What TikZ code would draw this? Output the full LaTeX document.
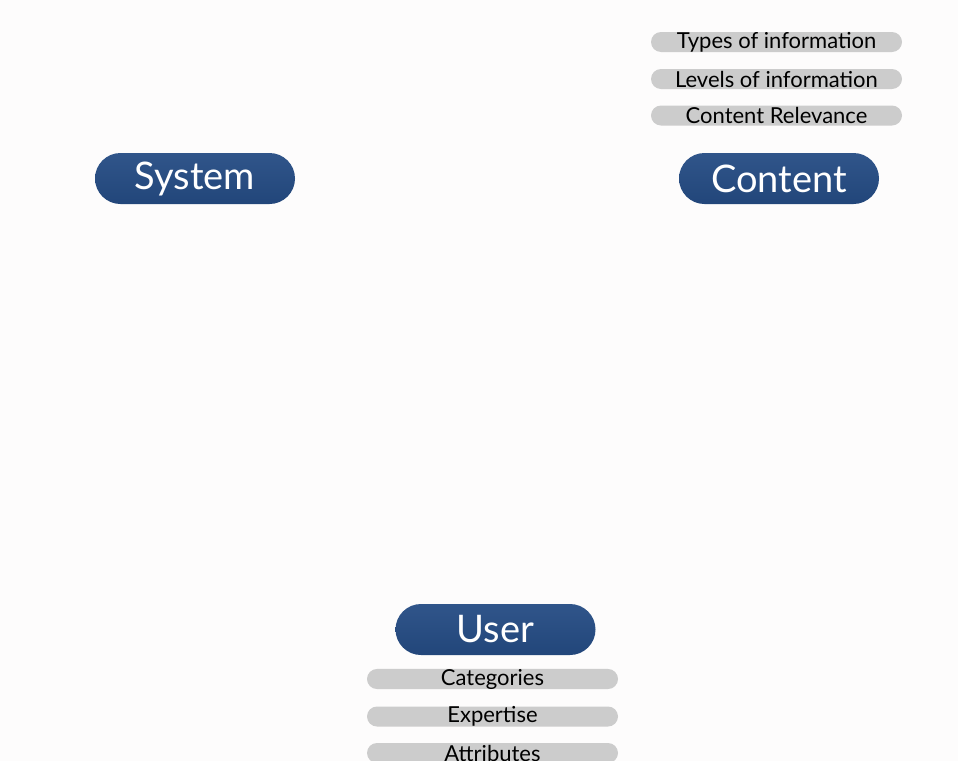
\documentclass[tikz,border=0pt]{standalone}
\usepackage{fontspec}
\setmainfont{Lato}
\definecolor{pillblue}{HTML}{22467A}
\definecolor{pilltop}{HTML}{30558A}
\definecolor{pillgray}{HTML}{CCCCCC}
\definecolor{pagebg}{HTML}{FDFCFC}
\tikzset{
  mainpill/.style={rounded corners=25.5*0.75pt, minimum width=200*0.75pt, minimum height=51*0.75pt,
    top color=pilltop, bottom color=pillblue, draw=none, text=white,
    font=\fontsize{28.5}{28.5}\selectfont, inner sep=0pt},
  subpill/.style={rounded corners=10*0.75pt, minimum width=251*0.75pt, minimum height=20*0.75pt,
    fill=pillgray, draw=none, text=black, font=\fontsize{16.5}{16.5}\selectfont, inner sep=0pt}
}
\begin{document}
\begin{tikzpicture}[x=0.75pt,y=-0.75pt]
\fill[pagebg] (0,0) rectangle (958,761);
\useasboundingbox (0,0) rectangle (958,761);
% three headings
\node[mainpill] (system) at (195,178.5) {System};
\node[mainpill] (content) at (779,178.5) {Content};
\node[mainpill] (user) at (495.5,629.5) {User};
% content aspects
\node[subpill] (types) at (776.5,42) {Types of information};
\node[subpill] (levels) at (776.5,79) {Levels of information};
\node[subpill] (relevance) at (776.5,115.5) {Content Relevance};
% user aspects
\node[subpill] (categories) at (492.5,679) {Categories};
\node[subpill] (expertise) at (492.5,716.5) {Expertise};
\node[subpill] (attributes) at (492.5,753) {Attributes};
\end{tikzpicture}
\end{document}
